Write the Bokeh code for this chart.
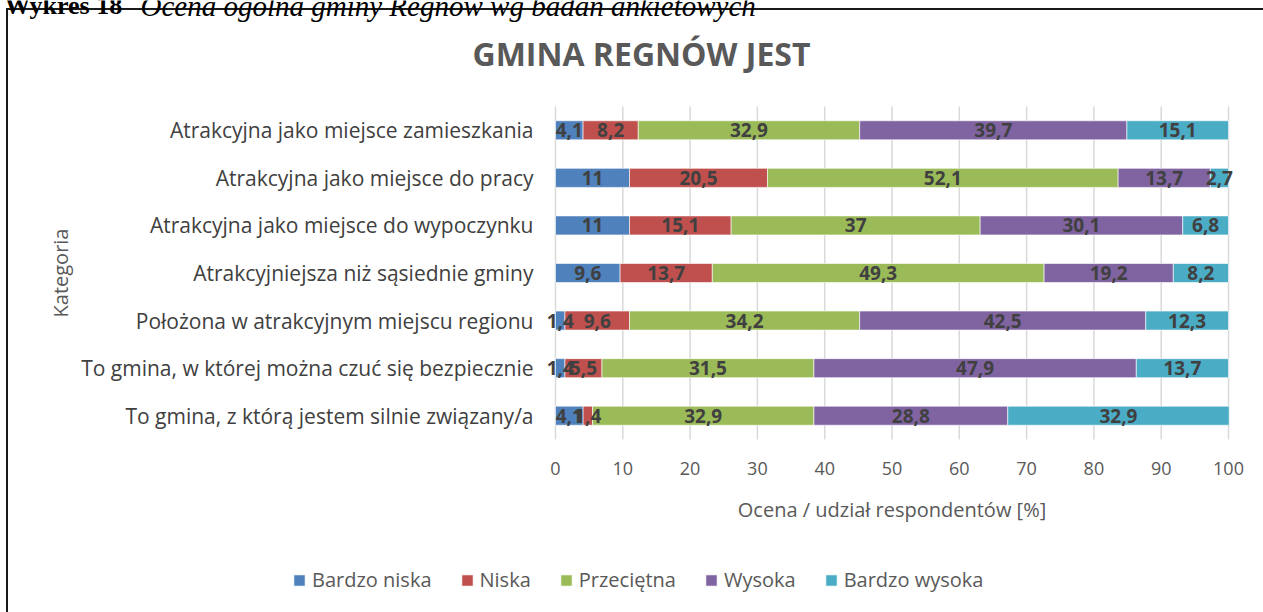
import math
from bokeh.plotting import figure
from bokeh.models import (ColumnDataSource, Legend, LegendItem, LabelSet, FixedTicker, Range1d,
                          LinearAxis)
from bokeh.core.properties import value
from bokeh.embed import file_html
from bokeh.resources import INLINE

# ---- data (top to bottom as shown) ----
categories = [
    "Atrakcyjna jako miejsce zamieszkania",
    "Atrakcyjna jako miejsce do pracy",
    "Atrakcyjna jako miejsce do wypoczynku",
    "Atrakcyjniejsza niż sąsiednie gminy",
    "Położona w atrakcyjnym miejscu regionu",
    "To gmina, w której można czuć się bezpiecznie",
    "To gmina, z którą jestem silnie związany/a",
]
bardzo_niska = [4.1, 11, 11, 9.6, 1.4, 1.4, 4.1]
niska = [8.2, 20.5, 15.1, 13.7, 9.6, 5.5, 1.4]
przecietna = [32.9, 52.1, 37, 49.3, 34.2, 31.5, 32.9]
wysoka = [39.7, 13.7, 30.1, 19.2, 42.5, 47.9, 28.8]
bardzo_wysoka = [15.1, 2.7, 6.8, 8.2, 12.3, 13.7, 32.9]
series_names = ["Bardzo niska", "Niska", "Przeciętna", "Wysoka", "Bardzo wysoka"]
colors = ["#4F81BD", "#C0504D", "#9BBB59", "#8064A2", "#4BACC6"]
x_ticks = [0, 10, 20, 30, 40, 50, 60, 70, 80, 90, 100]
title_text = "GMINA REGNÓW JEST"
x_label = "Ocena / udział respondentów [%]"
y_label = "Kategoria"
caption_bold = "Wykres 18"
caption_italic = "Ocena ogólna gminy Regnów wg badań ankietowych"

series = [bardzo_niska, niska, przecietna, wysoka, bardzo_wysoka]
n = len(categories)
ypos = [n - 1 - i for i in range(n)]

FONT = "Open Sans"
W, H = 1263, 612
X0_PX, X100_PX = 555.0, 1228.0          # page x of 0 % and 100 %
PX_PER_X = (X100_PX - X0_PX) / 100.0
ROW_PX = 47.57                            # page px per category row
BARS_BOTTOM = 439.0                       # page y of the bottom of the bar area


def xd(px):   # page x -> data x
    return (px - X0_PX) / PX_PER_X


def yd(py):   # page y -> data y
    return -0.5 + (BARS_BOTTOM - py) / ROW_PX


data = {"y": ypos, "cat": categories}
for name, vals in zip(series_names, series):
    data[name] = vals
source = ColumnDataSource(data)

p = figure(width=W, height=H, output_backend="svg", toolbar_location=None,
           x_range=Range1d(xd(0), xd(W)), y_range=Range1d(yd(H), yd(0)),
           y_axis_location=None,
           min_border_left=0, min_border_right=0, min_border_top=0, min_border_bottom=0)
p.background_fill_alpha = 0
p.border_fill_alpha = 0
p.outline_line_color = None
p.styles = {
    "background": ("linear-gradient(#1a1a1a,#1a1a1a) 6px 8px / 2px 100% no-repeat, "
                   "linear-gradient(#1a1a1a,#1a1a1a) 6px 8px / 100% 2px no-repeat, #ffffff"),
}

# vertical gridlines over the bar area only
p.xgrid.grid_line_color = None
p.ygrid.grid_line_color = None
p.segment(x0=x_ticks, y0=[-0.5] * len(x_ticks), x1=x_ticks, y1=[n - 0.5] * len(x_ticks),
          line_color="#D9D9D9", line_width=1.5)

renderers = p.hbar_stack(series_names, y="y", height=0.4, color=colors, source=source,
                         line_color="white", line_alpha=0.6, line_width=1)

# data labels
lab_x, lab_y, lab_t = [], [], []
for i in range(n):
    cum = 0.0
    for vals in series:
        v = vals[i]
        lab_x.append(cum + v / 2.0)
        lab_y.append(ypos[i])
        lab_t.append(("%g" % v).replace(".", ","))
        cum += v
lsrc = ColumnDataSource(dict(x=lab_x, y=lab_y, t=lab_t))
p.add_layout(LabelSet(x="x", y="y", text="t", source=lsrc, text_align="center", text_baseline="middle",
                      text_font=value(FONT), text_font_style="bold", text_font_size="19px",
                      text_color="#404040"))

# category labels (vertical axis)
csrc = ColumnDataSource(dict(x=[xd(533)] * n, y=ypos, t=categories))
p.text(x="x", y="y", text="t", source=csrc, text_align="right", text_baseline="middle",
       text_font=value(FONT), text_font_size="21px", text_color="#404040")
p.text(x=[xd(60)], y=[(n - 1) / 2.0], text=[y_label], angle=math.pi / 2, text_align="center",
       text_baseline="middle", text_font=value(FONT), text_font_size="20px", text_color="#595959")

# chart title and the cut-off document caption above it
p.text(x=[xd(641)], y=[yd(53)], text=[title_text], text_align="center", text_baseline="middle",
       text_font=value(FONT), text_font_style="bold", text_font_size="32px", text_color="#595959")
p.text(x=[xd(4)], y=[yd(5)], text=[caption_bold], text_align="left", text_baseline="alphabetic",
       text_font=value("Liberation Serif"), text_font_style="bold", text_font_size="26px", text_color="#000000")
p.text(x=[xd(140)], y=[yd(5)], text=[caption_italic], text_align="left", text_baseline="alphabetic",
       text_font=value("Liberation Serif"), text_font_style="italic", text_font_size="29px", text_color="#000000")

# x axis with tick labels, pinned to the bottom of the bar area
p.xaxis.ticker = FixedTicker(ticks=x_ticks)
p.xaxis.fixed_location = -0.5
p.xaxis.axis_line_color = None
p.xaxis.major_tick_line_color = None
p.xaxis.minor_tick_line_color = None
p.xaxis.major_tick_out = 0
p.xaxis.major_label_standoff = 22
p.xaxis.major_label_text_font = FONT
p.xaxis.major_label_text_font_size = "18px"
p.xaxis.major_label_text_color = "#595959"

# x axis title, centred under 0..100
ax2 = LinearAxis(ticker=FixedTicker(ticks=[50]), major_label_overrides={50: x_label},
                 fixed_location=-0.5,
                 axis_line_color=None, major_tick_line_color=None, minor_tick_line_color=None,
                 major_tick_out=0, major_label_standoff=56,
                 major_label_text_font=FONT, major_label_text_font_size="20px",
                 major_label_text_color="#595959")
p.add_layout(ax2, "below")

legend = Legend(items=[LegendItem(label=nm, renderers=[r]) for nm, r in zip(series_names, renderers)],
                orientation="horizontal", location=(292, 19), padding=0, margin=0, spacing=28,
                glyph_width=14, glyph_height=14, label_standoff=6,
                label_text_font=FONT, label_text_font_size="20px", label_text_color="#595959",
                border_line_color=None, background_fill_alpha=0)
p.add_layout(legend, "center")

open("out.html", "w").write(file_html(p, INLINE))
